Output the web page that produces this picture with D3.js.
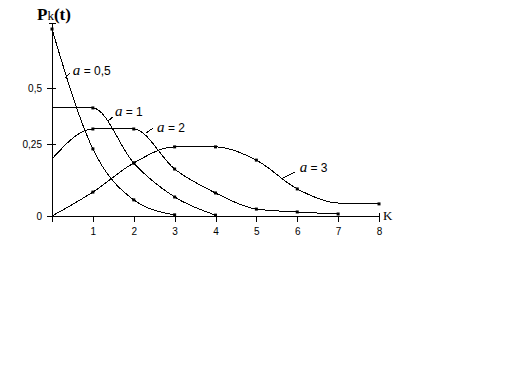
<!DOCTYPE html>
<html>
<head>
<meta charset="utf-8">
<script src="https://cdn.jsdelivr.net/npm/d3@7"></script>
<style>
  body { margin: 0; background: #fff; }
  svg text { font-family: "Liberation Sans", Arial, sans-serif; }
</style>
</head>
<body>
<svg id="chart" width="512" height="384"></svg>
<script>
      var bar = d3.select("#chart");

      // data: P_k(t), k = 0,1,2,...
      var kTicks   = [1, 2, 3, 4, 5, 6, 7, 8];
      var yTicks   = [0, 0.25, 0.5];
      var yLabels  = ["0", "0,25", "0,5"];
      var seriesNames = ["0,5", "1", "2", "3"];
      var a05 = [0.763, 0.233, 0.056, 0.004];
      var a1  = [0.411, 0.411, 0.184, 0.066, 0.003];
      var a2  = [0.198, 0.317, 0.317, 0.163, 0.080, 0.024, 0.014, 0.007];
      var a3  = [0.000, 0.083, 0.184, 0.240, 0.240, 0.194, 0.094, 0.045, 0.042];
      var allSeries = [a05, a1, a2, a3];
      var noMark    = [[], [0], [0], [0, 7]];   // points drawn without a dot
      // label leader: from curve point (k0,v0) to (k1,v1), text at (kt,vt)
      var labelPos = [
        {k0: 0.32, v0: 0.545, k1: 0.44, v1: 0.567, kt: 0.51, vt: 0.556},
        {k0: 1.37, v0: 0.353, k1: 1.49, v1: 0.371, kt: 1.54, vt: 0.375},
        {k0: 2.30, v0: 0.299, k1: 2.47, v1: 0.321, kt: 2.57, vt: 0.304},
        {k0: 5.65, v0: 0.132, k1: 5.94, v1: 0.153, kt: 6.06, vt: 0.153}
      ];

      // scales (the original y axis is not evenly spaced)
      var xScale = d3.scaleLinear().domain([0, 8]).range([52, 379]);
      var yScale = d3.scaleLinear().domain([0, 0.25, 0.5, 0.79]).range([216, 144, 88, 23]);

      // axes
      var x0 = xScale(0), y0 = yScale(0);
      bar.append("line").attr("x1", x0).attr("y1", yScale(0.79)).attr("x2", x0).attr("y2", y0 + 6)
         .style("stroke", "black").style("shape-rendering", "crispEdges");
      bar.append("line").attr("x1", x0 - 3).attr("y1", yScale(0.79)).attr("x2", x0 + 4).attr("y2", yScale(0.79))
         .style("stroke", "black").style("shape-rendering", "crispEdges");
      bar.append("line").attr("x1", x0).attr("y1", y0).attr("x2", xScale(8)).attr("y2", y0)
         .style("stroke", "black").style("shape-rendering", "crispEdges");
      bar.append("line").attr("x1", xScale(8)).attr("y1", y0 - 3).attr("x2", xScale(8)).attr("y2", y0 + 4)
         .style("stroke", "black").style("shape-rendering", "crispEdges");

      var gx = bar.append("g").attr("transform", "translate(0," + y0 + ")")
         .call(d3.axisBottom(xScale).tickValues(kTicks).tickSize(6).tickPadding(6).tickFormat(d3.format("d")));
      gx.select(".domain").remove();
      gx.selectAll("line").style("shape-rendering", "crispEdges");
      gx.selectAll("text").style("font-size", "10px").style("font-family", "Liberation Sans, Arial, sans-serif");

      var gy = bar.append("g").attr("transform", "translate(" + x0 + ",0)")
         .call(d3.axisLeft(yScale).tickValues(yTicks).tickSize(5).tickPadding(5)
                 .tickFormat(function(d, i) { return yLabels[i]; }));
      gy.select(".domain").remove();
      gy.selectAll("line").attr("x2", 4).attr("x1", -5).style("shape-rendering", "crispEdges");
      gy.selectAll("text").style("font-size", "10px").style("font-family", "Liberation Sans, Arial, sans-serif");

      // axis titles
      var yt = bar.append("text").attr("x", 37).attr("y", 20)
         .style("font-family", "Liberation Serif, Times New Roman, serif");
      yt.append("tspan").text("P").style("font-size", "17px").style("font-weight", "bold");
      yt.append("tspan").text("k").style("font-size", "13px");
      yt.append("tspan").text("(t)").style("font-size", "17px").style("font-weight", "bold");
      bar.append("text").attr("x", xScale(8) + 4).attr("y", y0 + 4).text("K")
         .style("font-family", "Liberation Serif, Times New Roman, serif").style("font-size", "13px");

      // curves
      var line = d3.line()
         .x(function(d, i) { return xScale(i); })
         .y(function(d) { return yScale(d); })
         .curve(d3.curveMonotoneX);

      allSeries.forEach(function(s, j) {
        bar.append("path").attr("d", line(s))
           .style("fill", "none").style("stroke", "black").style("stroke-width", "1")
           .style("shape-rendering", "crispEdges");
        s.forEach(function(v, i) {
          if (noMark[j].indexOf(i) >= 0) return;
          bar.append("rect").attr("x", xScale(i) - 1.5).attr("y", yScale(v) - 1.5)
             .attr("width", 3).attr("height", 3).style("fill", "black");
        });
      });

      // series labels  a = ...
      labelPos.forEach(function(p, j) {
        bar.append("line").attr("x1", xScale(p.k0)).attr("y1", yScale(p.v0))
           .attr("x2", xScale(p.k1)).attr("y2", yScale(p.v1))
           .style("stroke", "black").style("stroke-width", "1").style("shape-rendering", "crispEdges");
        var t = bar.append("text").attr("x", xScale(p.kt)).attr("y", yScale(p.vt));
        t.append("tspan").text("a").style("font-family", "Liberation Serif, Times New Roman, serif")
           .style("font-style", "italic").style("font-size", "15px");
        t.append("tspan").text(" = " + seriesNames[j]).style("font-size", "12px")
           .style("font-family", "Liberation Sans, Arial, sans-serif");
      });
</script>
</body>
</html>
